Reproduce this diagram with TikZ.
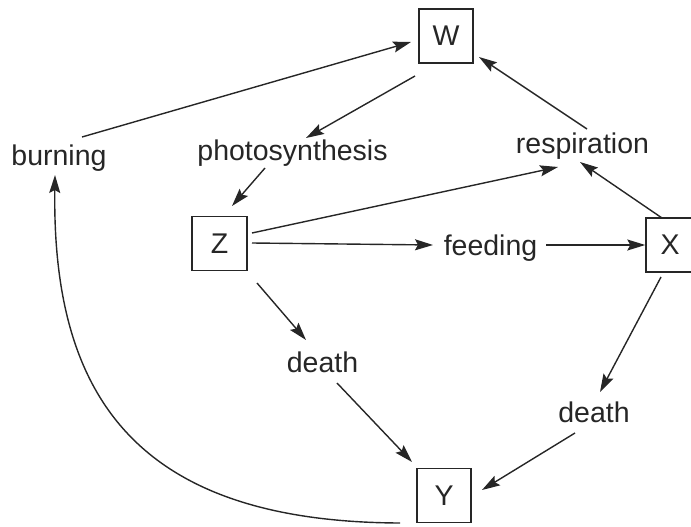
\documentclass[tikz,border=0pt]{standalone}
\usepackage{fontspec}
\setmainfont{Liberation Sans}
\usetikzlibrary{arrows.meta,calc}
\definecolor{ink}{HTML}{262626}
\tikzset{
  box/.style={draw=ink, line width=1.4pt, minimum width=54pt, minimum height=54pt, inner sep=0pt, text=ink, font=\fontsize{28.5}{34}\selectfont},
  lbl/.style={anchor=base, inner sep=0pt, text=ink, font=\fontsize{28.5}{34}\selectfont},
  arr/.style={draw=ink, line width=1.4pt, -{Stealth[length=18pt,width=11pt,inset=3pt]}},
}
\begin{document}
\begin{tikzpicture}[x=1pt,y=-1pt]
\useasboundingbox (0,0) rectangle (691,527);
% boxes
\node[box] (W) at (446,36) {W};
\node[box, minimum width=55pt, minimum height=54pt] (Z) at (219.5,243.5) {Z};
\node[box, minimum width=48pt] (X) at (670,245) {X};
\node[box] (Y) at (444,495.5) {Y};
% labels
\node[lbl] (burn) at (59,165) {burning};
\node[lbl] (photo) at (292.5,160) {photosynthesis};
\node[lbl] (resp) at (582.5,153) {respiration};
\node[lbl] (feed) at (490.5,255) {feeding};
\node[lbl] (deathL) at (322.5,372) {death};
\node[lbl] (deathR) at (594,422) {death};
% connectors
\draw[arr] ($(burn.base)+(23,-28)$) -- ($(W)+(-35,6)$);
\draw[arr] ($(W)+(-31,40)$) -- ($(photo.base)+(13.5,-22)$);
\draw[arr] ($(photo.base)+(-27.5,8)$) -- ($(Z)+(12.5,-37.5)$);
\draw[arr] ($(Z)+(32.5,-10.5)$) -- ($(resp.base)+(-24.5,14)$);
\draw[arr] ($(resp.base)+(4.5,-24)$) -- ($(W)+(33,21)$);
\draw[arr] ($(X)+(-8,-27)$) -- ($(resp.base)+(-2.5,9)$);
\draw[arr] ($(Z)+(32.5,-0.5)$) -- ($(feed.base)+(-57.5,-10)$);
\draw[arr] ($(feed.base)+(55.5,-10)$) -- (X.west);
\draw[arr] ($(Z)+(37.5,39.5)$) -- ($(deathL.base)+(-16.5,-32)$);
\draw[arr] ($(deathL.base)+(14.5,11)$) -- ($(Y)+(-32,-33.5)$);
\draw[arr] ($(X)+(-9,32)$) -- ($(deathR.base)+(6,-30)$);
\draw[arr] ($(deathR.base)+(-19,11)$) -- ($(Y)+(38,-5.5)$);
\draw[arr] ($(Y)+(-44,27.5)$) .. controls (135,522) and (52,395) .. ($(burn.base)+(-4,10)$);
\end{tikzpicture}
\end{document}
